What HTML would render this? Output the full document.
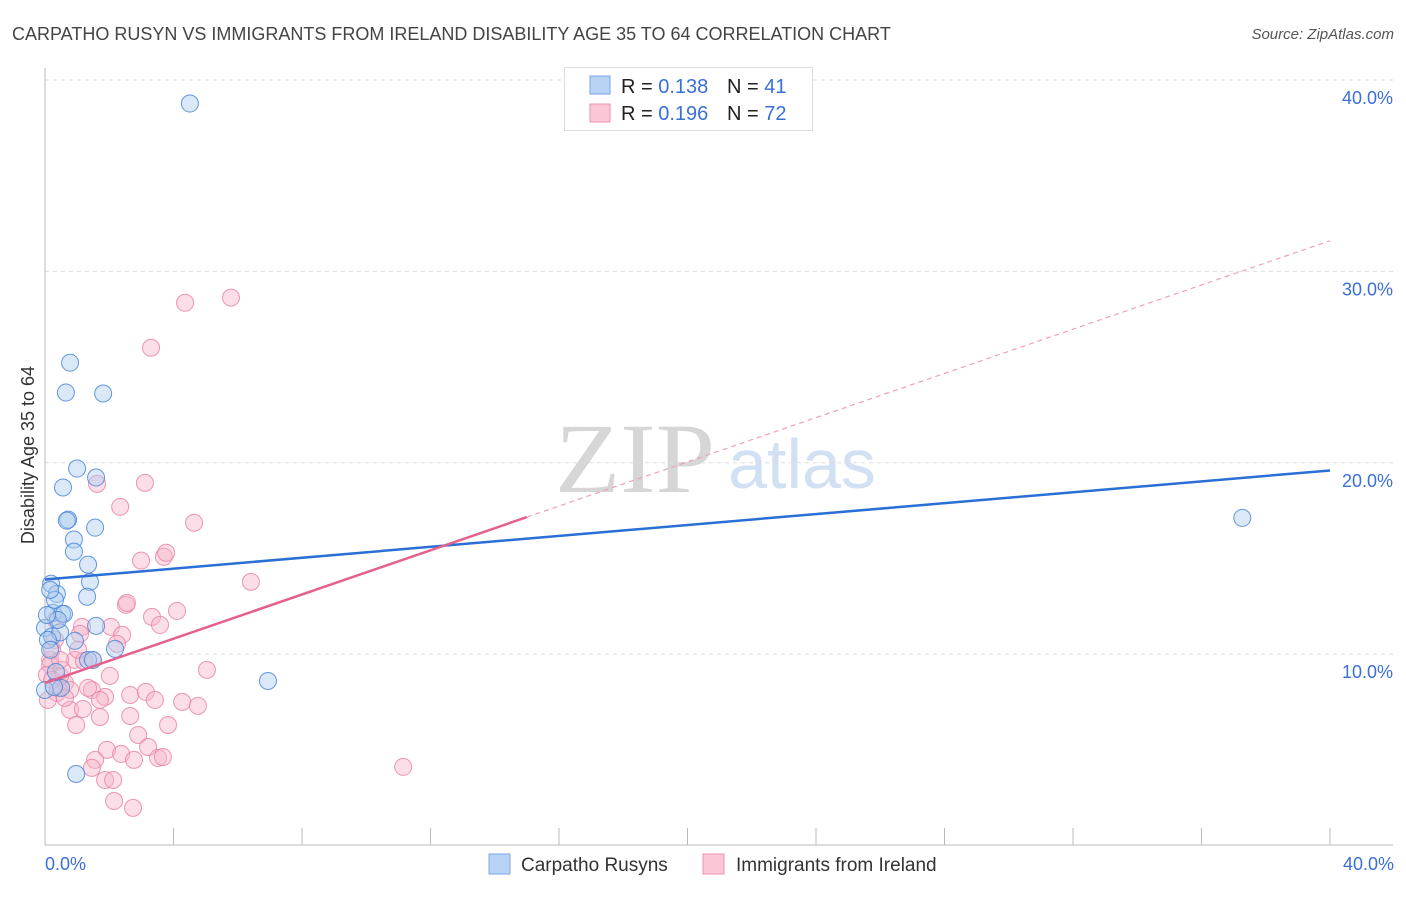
<!DOCTYPE html>
<html><head><meta charset="utf-8"><style>
body{margin:0;background:#fff;font-family:"Liberation Sans",sans-serif;}
svg text{font-family:"Liberation Sans",sans-serif;}
</style></head><body>
<svg id="chart" width="1406" height="892" xmlns="http://www.w3.org/2000/svg">
<text x="12" y="40" font-size="18" fill="#444">CARPATHO RUSYN VS IMMIGRANTS FROM IRELAND DISABILITY AGE 35 TO 64 CORRELATION CHART</text>
<text x="1394" y="39" font-size="15" fill="#555" font-style="italic" text-anchor="end">Source: ZipAtlas.com</text>
<text x="635" y="492" font-size="100" fill="#d6d6d6" style="font-family:'Liberation Serif',serif" text-anchor="middle" transform="translate(635,0) scale(1,1) translate(-635,0)" textLength="160" lengthAdjust="spacingAndGlyphs">ZIP</text>
<text x="802" y="488" font-size="70" fill="#d2e0f3" text-anchor="middle">atlas</text>
<text transform="translate(34,455) rotate(-90)" font-size="18" fill="#333" text-anchor="middle">Disability Age 35 to 64</text>
<g id="grid"></g><g id="axes"></g><g id="pts"></g><g id="lines"></g>
<g>
<rect x="564.5" y="67.5" width="248" height="63" fill="#fff" stroke="#ddd"/>
<rect x="590" y="76" width="20" height="18" fill="#b9d3f5" stroke="#7aa6e6"/>
<rect x="590" y="104" width="20" height="18" fill="#fbc6d6" stroke="#ee93b0"/>
<text x="621" y="93" font-size="20" fill="#222">R = <tspan fill="#3a6fd8">0.138</tspan></text>
<text x="727" y="93" font-size="20" fill="#222">N = <tspan fill="#3a6fd8"> 41</tspan></text>
<text x="621" y="120" font-size="20" fill="#222">R = <tspan fill="#3a6fd8">0.196</tspan></text>
<text x="727" y="120" font-size="20" fill="#222">N = <tspan fill="#3a6fd8">72</tspan></text>
</g>
<g>
<rect x="489" y="854" width="21" height="20" fill="#b9d3f5" stroke="#7aa6e6"/>
<text x="521" y="871" font-size="19" fill="#333">Carpatho Rusyns</text>
<rect x="703" y="854" width="21" height="20" fill="#fbc6d6" stroke="#ee93b0"/>
<text x="736" y="871" font-size="19" fill="#333">Immigrants from Ireland</text>
</g>
<text x="45" y="870" font-size="18" fill="#3a6fd8">0.0%</text>
<text x="1394" y="870" font-size="18" fill="#3a6fd8" text-anchor="end">40.0%</text>
</svg>
<script>
const blueX=[4.51,0.78,0.65,1.81,1.00,1.59,0.56,0.72,0.68,1.56,0.90,0.90,1.34,1.40,0.19,0.37,1.31,0.25,0.53,0.59,0,1.59,0.22,0.47,0.93,0.09,1.34,2.18,1.49,0,6.94,0.97,0.50,0.28,0.16,0.40,0.06,0.34,0.31,0.16,37.27];
const blueY=[38.77,25.23,23.67,23.62,19.70,19.23,18.71,17.03,16.98,16.61,15.99,15.36,14.68,13.78,13.68,13.15,13.00,12.16,12.11,12.11,11.37,11.48,10.93,11.14,10.70,10.75,9.70,10.28,9.70,8.13,8.60,3.74,8.24,8.29,10.23,11.79,12.05,9.07,12.84,13.36,17.12];
const pinkX=[4.36,5.79,3.30,1.62,3.11,2.34,4.64,2.99,3.70,3.77,6.41,2.52,2.55,4.11,3.33,3.58,2.05,2.40,2.24,1.15,1.09,0.16,5.04,0.93,1.21,2.02,1.46,0.37,0.62,0.47,2.65,1.87,3.14,4.27,4.76,3.42,0.78,1.18,1.71,2.65,0.97,3.83,2.90,3.21,1.93,2.37,1.56,2.77,3.52,3.67,11.15,1.46,1.87,2.12,2.15,2.74,0.31,0.22,0.53,0.16,0.78,0.40,1.34,0.62,1.49,0.06,0.34,0.47,1.03,1.71,0.09,0.22];
const pinkY=[28.36,28.63,26.01,18.90,18.95,17.70,16.87,14.89,15.09,15.30,13.78,12.58,12.68,12.26,11.95,11.53,11.43,11.01,10.54,11.43,11.06,9.70,9.18,9.70,9.65,8.87,8.13,7.98,8.50,8.87,7.87,7.77,8.03,7.51,7.30,7.61,7.09,7.14,6.72,6.77,6.30,6.30,5.78,5.15,5.00,4.79,4.48,4.48,4.58,4.63,4.11,4.06,3.43,3.43,2.33,1.97,10.75,10.23,9.18,9.44,8.13,8.24,8.24,7.72,9.70,8.92,11.79,9.70,10.23,7.61,7.61,8.66];
const yTicks=[10,20,30,40];
const yTickLabels=["10.0%","20.0%","30.0%","40.0%"];
const xTicks=[0,4,8,12,16,20,24,28,32,36,40];
const blueTrend=[13.9,19.6];
const pinkTrend=[8.5,31.6];
const pinkSolidEnd=15.0;

const NS="http://www.w3.org/2000/svg";
const sx=v=>45+v*32.125, sy=v=>845.6-v*19.14;
function mk(tag,attrs,parent){const e=document.createElementNS(NS,tag);for(const k in attrs)e.setAttribute(k,attrs[k]);parent.appendChild(e);return e;}
const grid=document.getElementById('grid'),axes=document.getElementById('axes'),pts=document.getElementById('pts'),lines=document.getElementById('lines');
yTicks.forEach((t,i)=>{
  const l=mk('line',{x1:45,x2:1393,y1:sy(t),y2:sy(t),stroke:'#ddd','stroke-dasharray':'4,4'},grid);
  
  
  const tx=mk('text',{x:1393,y:sy(t)+24,'font-size':18,fill:'#3a6fd8','text-anchor':'end'},grid);
  tx.textContent=yTickLabels[i];
  
  
});
const ya=mk('line',{x1:45,x2:45,y1:68,y2:845,stroke:'#bbb'},axes);


const xa=mk('line',{x1:45,x2:1393,y1:845,y2:845,stroke:'#bbb'},axes);


xTicks.forEach(t=>{
  const l=mk('line',{x1:sx(t),x2:sx(t),y1:828,y2:845,stroke:'#bbb'},axes);
  
  
});
function dots(X,Y,fill,stroke,name){X.forEach((x,i)=>{
  const c=mk('circle',{cx:sx(x),cy:sy(Y[i]),r:8.5,fill:fill,'fill-opacity':0.45,stroke:stroke,'stroke-width':1,'stroke-opacity':0.85},pts);
  
  
});}
dots(pinkX,pinkY,'#f7b6ca','#e985a6','point-ireland');
dots(blueX,blueY,'#aecbf0','#4a86d8','point-carpatho');
const bl=mk('line',{x1:sx(0),y1:sy(blueTrend[0]),x2:sx(40),y2:sy(blueTrend[1]),stroke:'#2a6fd6','stroke-width':2.5},lines);


const pAt=x=>pinkTrend[0]+(pinkTrend[1]-pinkTrend[0])*x/40;
const pl=mk('line',{x1:sx(0),y1:sy(pAt(0)),x2:sx(pinkSolidEnd),y2:sy(pAt(pinkSolidEnd)),stroke:'#e4608e','stroke-width':2.5},lines);


const pd=mk('line',{x1:sx(pinkSolidEnd),y1:sy(pAt(pinkSolidEnd)),x2:sx(40),y2:sy(pAt(40)),stroke:'#eea0bb','stroke-width':1.2,'stroke-dasharray':'5,4'},lines);


</script>
</body></html>
